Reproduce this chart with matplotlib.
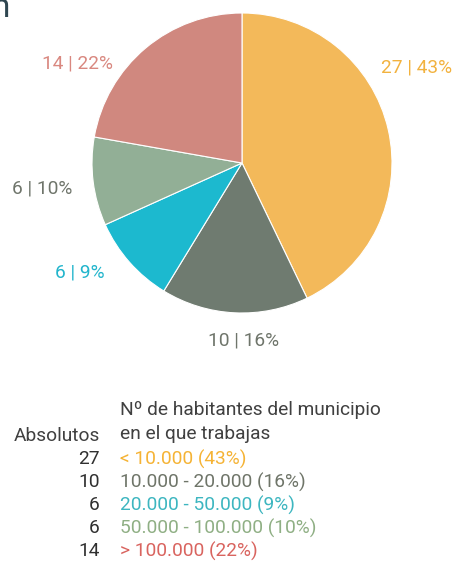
import matplotlib
matplotlib.use("Agg")
import matplotlib.pyplot as plt

categories = ["< 10.000", "10.000 - 20.000", "20.000 - 50.000", "50.000 - 100.000", "> 100.000"]
values = [27, 10, 6, 6, 14]
pcts = [43, 16, 9, 10, 22]
wedge_colors = ["#F3B95A", "#6F7B70", "#1CB9CF", "#92AF96", "#D0887F"]
label_colors = ["#F2B23F", "#6F756B", "#22B5CC", "#6F756B", "#D98880"]
legend_colors = ["#F5B335", "#6F7569", "#3DB6C0", "#8FAF84", "#D9645F"]
header = ["Nº de habitantes del municipio", "en el que trabajas"]

W, H = 455, 569
fig = plt.figure(figsize=(W / 100, H / 100), dpi=100)
ax = fig.add_axes([0, 0, 1, 1])

font = "Roboto"
fs = 13.8

cx, cy, r = 242, H - 163, 150
ax.pie(values, colors=wedge_colors, startangle=90, counterclock=False,
       center=(cx, cy), radius=r, frame=True,
       wedgeprops=dict(edgecolor="white", linewidth=0.8))
ax.set_xlim(0, W)
ax.set_ylim(0, H)
ax.axis("off")

label_pos = [(417, 67), (244, 341), (80, 272), (42, 188), (77, 63)]
for (x, y), v, p, c in zip(label_pos, values, pcts, label_colors):
    ax.text(x, H - y, f"{v} | {p}%", color=c, fontsize=fs, family=font,
            ha="center", va="center")

# partially cut title glyph (cut off in the reference too)
ax.text(-8, H - 8, "n", color="#2F4650", fontsize=24, family=font, ha="left", va="center")

# legend
ax.text(120, H - 410, header[0], color="#404040", fontsize=fs, family=font, ha="left", va="center")
ax.text(120, H - 434, header[1], color="#404040", fontsize=fs, family=font, ha="left", va="center")
ax.text(100, H - 436, "Absolutos", color="#404040", fontsize=fs, family=font, ha="right", va="center")
for i, (cat, v, p, c) in enumerate(zip(categories, values, pcts, legend_colors)):
    y = H - (459 + i * 23)
    ax.text(100, y, str(v), color="#303030", fontsize=fs, family=font, ha="right", va="center")
    ax.text(120, y, f"{cat} ({p}%)", color=c, fontsize=fs, family=font, ha="left", va="center")

fig.savefig("out.png", dpi=100)
